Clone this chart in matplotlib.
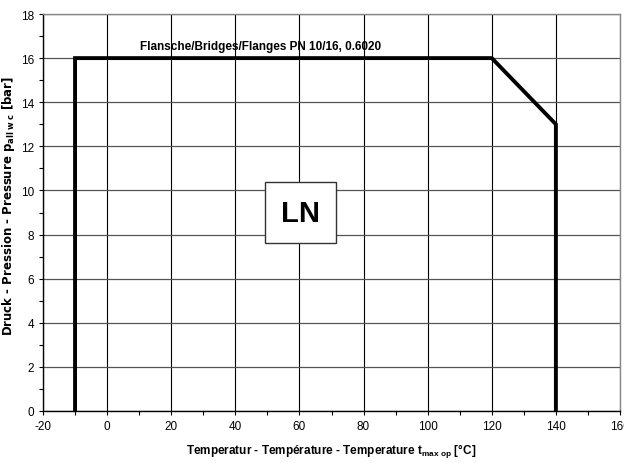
import matplotlib.pyplot as plt
import numpy as np

# Pressure/temperature limit curve
temps = [-10, -10, 120, 140, 140]
pressures = [0, 16, 16, 13, 0]

x_ticks = list(range(-20, 161, 20))
y_ticks = list(range(0, 19, 2))

plt.rcParams['axes.unicode_minus'] = False
label_font = ['Liberation Sans', 'DejaVu Sans']

fig = plt.figure(figsize=(6.24, 4.64), dpi=100)
ax = fig.add_axes([43/624, 52/464, 577/624, 397/464])

ax.plot(temps, pressures, color='black', linewidth=2.8, solid_joinstyle='miter', zorder=3)

ax.set_xlim(-20, 160)
ax.set_ylim(0, 18)
ax.set_xticks(x_ticks)
ax.set_yticks(y_ticks)
ax.set_xticks(np.arange(-20, 161, 10), minor=True)
ax.set_yticks(np.arange(0, 19, 1), minor=True)
ax.tick_params(which='both', direction='out', length=3, width=0.8, labelsize=8.5)
for lab in ax.get_xticklabels() + ax.get_yticklabels():
    lab.set_family(label_font)

ax.grid(True, axis='x', which='major', color='black', linewidth=0.8)
ax.grid(True, axis='y', which='major', color='#555555', linewidth=0.9)
for s in ax.spines.values():
    s.set_linewidth(1.0)
ax.spines['right'].set_color('#888888')
ax.spines['top'].set_color('#888888')

ax.text(48, 16.55, 'Flansche/Bridges/Flanges PN 10/16, 0.6020', ha='center', va='center',
        fontsize=8.5, fontweight='bold', family=label_font)

ax.text(60.3, 9.0, 'LN', ha='center', va='center', fontsize=21, fontweight='bold',
        family=['Liberation Sans', 'DejaVu Sans'], zorder=4,
        bbox=dict(boxstyle='square,pad=0.55', facecolor='white', edgecolor='#333333', linewidth=1.0))

ax.set_xlabel(r'Temperatur - Température - Temperature t$_{\mathregular{max\ op}}$ [°C]',
              fontsize=8.5, fontweight='bold', family=label_font, labelpad=7)
ax.set_ylabel(r'Druck - Pression - Pressure p$_{\mathregular{all\ w\ c}}$ [bar]',
              fontsize=8.5, fontweight='bold', family=['DejaVu Sans'])
ax.yaxis.set_label_coords(-0.045, 0.52)

plt.savefig('out.png', dpi=100)
